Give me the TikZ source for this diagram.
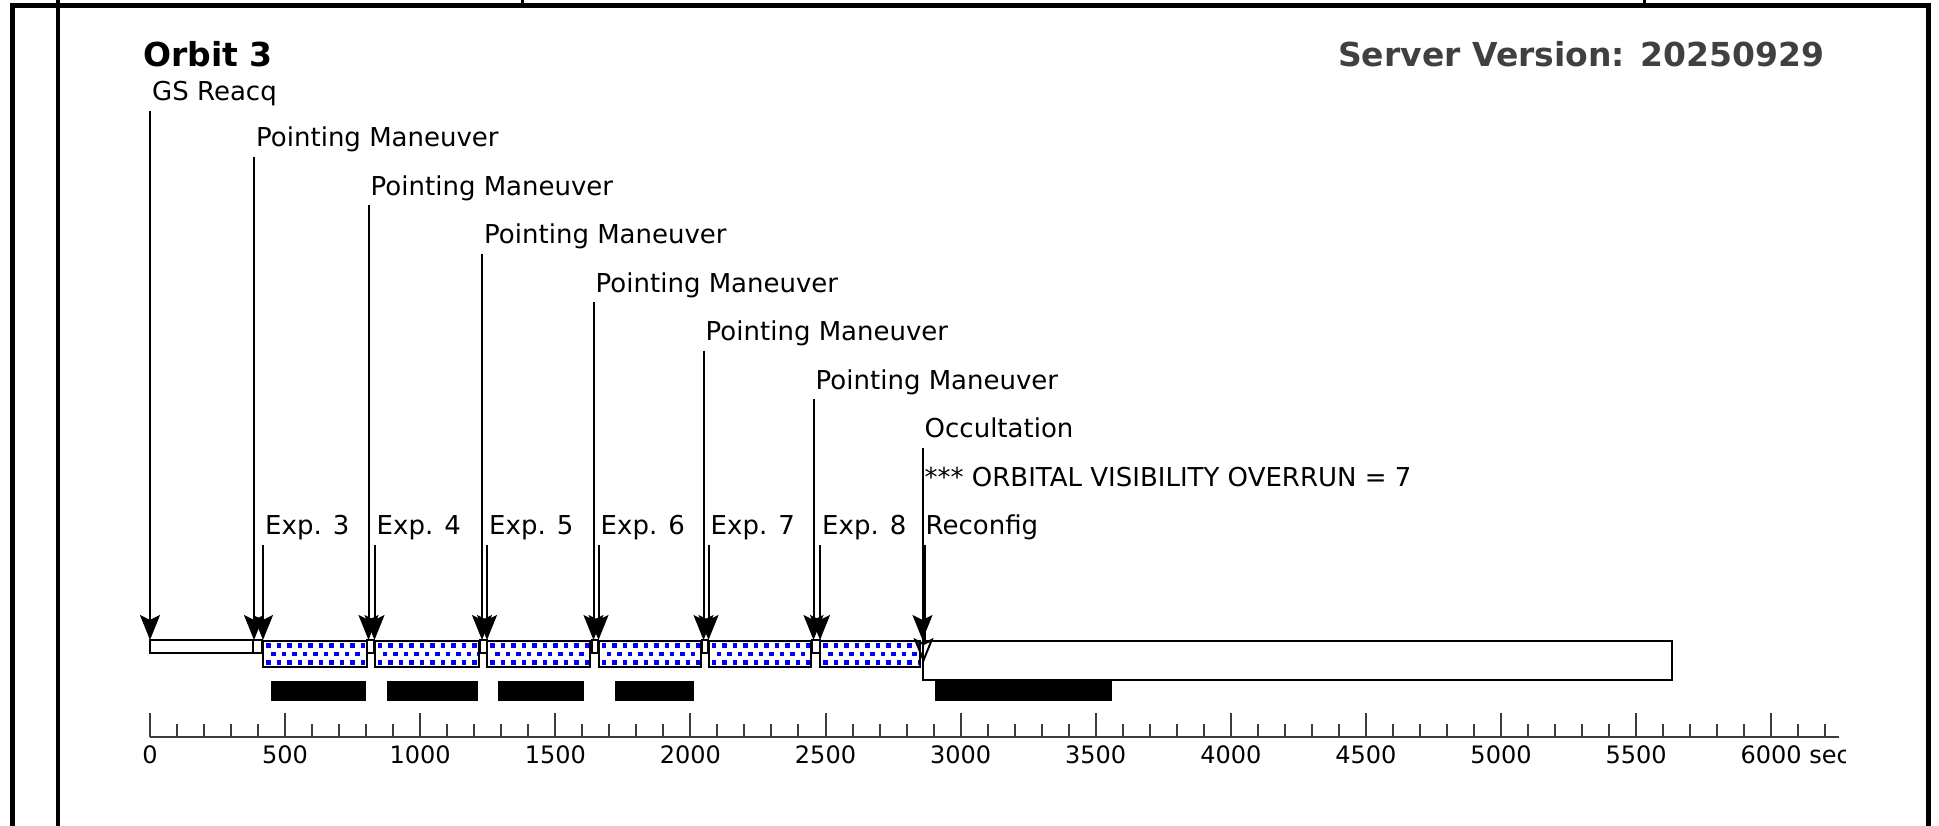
\documentclass[tikz,border=0pt]{standalone}
\usepackage{fontspec}
\setmainfont{DejaVu Sans}
\usetikzlibrary{arrows.meta}

\definecolor{dotblue}{RGB}{0,0,255}
\definecolor{versiongray}{RGB}{64,64,64}
\definecolor{axisgray}{RGB}{60,60,60}

\newcommand{\labelfont}{\fontsize{26pt}{30pt}\selectfont}
\newcommand{\titlefont}{\fontsize{33pt}{38pt}\selectfont\bfseries}
\newcommand{\tickfont}{\fontsize{24pt}{28pt}\selectfont}

\tikzstyle{evlabel} = [
    anchor=south west,
    inner xsep=2pt,
    inner ysep=2.5pt,
    text depth=7pt,
    font=\labelfont
]
\tikzstyle{title} = [
    anchor=base west,
    inner sep=0pt,
    font=\titlefont
]
\tikzstyle{slewbar} = [draw=black, line width=2pt, fill=white]
\tikzstyle{databar} = [fill=black]
\tikzstyle{arrow} = [line width=2pt, -{Stealth[length=25pt,width=20pt,inset=5pt]}]
\tikzstyle{bigarrow} = [line width=4pt, -{Stealth[open,line width=2pt,length=25pt,width=20pt,inset=5pt]}]

% dotted exposure bar: from x=#1 to x=#2
\newcommand{\expbar}[2]{%
  \fill[white] (#1,641) rectangle (#2,667);
  \begin{scope}
    \clip (#1,641) rectangle (#2,667);
    \foreach \r in {0,1,2}{
      \pgfmathsetmacro{\off}{mod(\r,2)*5.25}
      \foreach \c in {0,...,10}
        \fill[dotblue] ({#1+3+\off+\c*10.5},{643+\r*8.5}) rectangle ++(4.5,4.5);
    }
  \end{scope}
  \draw[line width=2pt] (#1,641) rectangle (#2,667);
}

\begin{document}
\begin{tikzpicture}[x=1pt, y=-1pt]
\useasboundingbox (0,0) rectangle (1939,825);

% frame
\draw[line width=5pt] (12,830) |- (1928,5) -- (1928,830);
\draw[line width=4pt] (58,0) -- (58,830);
\draw[line width=3pt] (522,0) -- (522,5);
\draw[line width=3pt] (1644,0) -- (1644,5);

\node (orbit) [title] at (143,66) {Orbit 3};
\node (version) [title, text=versiongray] at (1338,66) {Server Version: 20250929};

% event labels
\node (gsreacq) [evlabel] at (150,110.5) {GS Reacq};
\node (pm1) [evlabel] at (254,156.5) {Pointing Maneuver};
\node (pm2) [evlabel] at (368.5,205) {Pointing Maneuver};
\node (pm3) [evlabel] at (482,253.5) {Pointing Maneuver};
\node (pm4) [evlabel] at (593.5,302) {Pointing Maneuver};
\node (pm5) [evlabel] at (703.5,350.5) {Pointing Maneuver};
\node (pm6) [evlabel] at (813.5,399) {Pointing Maneuver};
\node (occult) [evlabel] at (922.5,447.5) {Occultation};
\node (overrun) [evlabel] at (922.5,496) {*** ORBITAL VISIBILITY OVERRUN = 7};
\node (exp3) [evlabel] at (263,544.5) {Exp. 3};
\node (exp4) [evlabel] at (374.5,544.5) {Exp. 4};
\node (exp5) [evlabel] at (487,544.5) {Exp. 5};
\node (exp6) [evlabel] at (598.5,544.5) {Exp. 6};
\node (exp7) [evlabel] at (708.5,544.5) {Exp. 7};
\node (exp8) [evlabel] at (820,544.5) {Exp. 8};
\node (reconfig) [evlabel] at (923.5,544.5) {Reconfig};

% bars
\draw [slewbar] (150,640) rectangle (253,653);
\draw [slewbar] (253,640) rectangle (262,653);
\draw [slewbar] (367,640) rectangle (374,653);
\draw [slewbar] (480,640) rectangle (487,653);
\draw [slewbar] (592,640) rectangle (598,653);
\draw [slewbar] (702,640) rectangle (708,653);
\draw [slewbar] (812,640) rectangle (820,653);
\expbar{263}{367}
\expbar{374.5}{478.5}
\expbar{487}{590}
\expbar{598.5}{701}
\expbar{708.5}{811}
\expbar{820}{920}
\draw [slewbar] (922.5,641) rectangle (1672,680);

\fill [databar] (271,681) rectangle (366,701);
\fill [databar] (387,681) rectangle (478,701);
\fill [databar] (498,681) rectangle (584,701);
\fill [databar] (615,681) rectangle (694,701);
\fill [databar] (935,681) rectangle (1112,701);

% arrow tips
\coordinate (gsreacq tip) at (150,640);
\coordinate (pm1 tip) at (254,640);
\coordinate (pm2 tip) at (368.5,640);
\coordinate (pm3 tip) at (482,640);
\coordinate (pm4 tip) at (593.5,640);
\coordinate (pm5 tip) at (703.5,640);
\coordinate (pm6 tip) at (813.5,640);
\coordinate (occult tip) at (922.5,640);
\coordinate (exp3 tip) at (263,640);
\coordinate (exp4 tip) at (374.5,640);
\coordinate (exp5 tip) at (487,640);
\coordinate (exp6 tip) at (598.5,640);
\coordinate (exp7 tip) at (708.5,640);
\coordinate (exp8 tip) at (820,640);
\coordinate (reconfig tip) at (923.5,663);

\draw [arrow] (gsreacq.south west) -- (gsreacq tip);
\draw [arrow] (pm1.south west) -- (pm1 tip);
\draw [arrow] (pm2.south west) -- (pm2 tip);
\draw [arrow] (pm3.south west) -- (pm3 tip);
\draw [arrow] (pm4.south west) -- (pm4 tip);
\draw [arrow] (pm5.south west) -- (pm5 tip);
\draw [arrow] (pm6.south west) -- (pm6 tip);
\draw [arrow] (occult.south west) -- (occult tip);
\draw [arrow] (exp3.south west) -- (exp3 tip);
\draw [arrow] (exp4.south west) -- (exp4 tip);
\draw [arrow] (exp5.south west) -- (exp5 tip);
\draw [arrow] (exp6.south west) -- (exp6 tip);
\draw [arrow] (exp7.south west) -- (exp7 tip);
\draw [arrow] (exp8.south west) -- (exp8 tip);
\draw [bigarrow] (reconfig.south west) -- (reconfig tip);

% time axis, in seconds
\begin{scope}
\clip (0,0) rectangle (1845,825);
\begin{scope}[x=0.2702pt, xshift=150pt, axisgray, line width=2pt]
  \draw (0,737) -- (6250,737);
  \foreach \t in {0,100,...,6200}
    \draw (\t,737) -- (\t,724);
  \foreach \t in {0,500,...,6000}
    \draw (\t,737) -- (\t,713);
  \foreach \t in {0,500,...,5500}
    \node (tick\t) [font=\tickfont, text=black, inner sep=0pt] at (\t,755) {\t};
  \node (tick6000) [font=\tickfont, text=black, inner sep=0pt] at (6000,755) {6000\rlap{ sec}};
\end{scope}
\end{scope}

\end{tikzpicture}
\end{document}
